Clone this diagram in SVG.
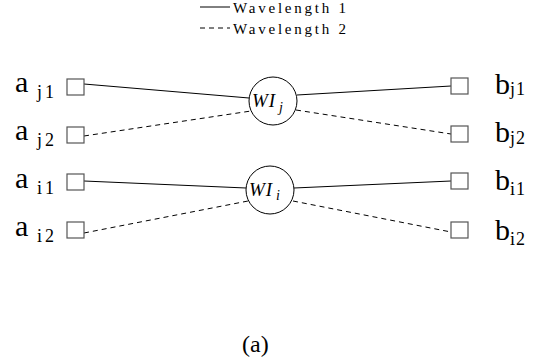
<svg xmlns="http://www.w3.org/2000/svg" width="547" height="362" viewBox="0 0 547 362">
<style>
.box{fill:#fff;stroke:#555;stroke-width:1.2}
.circ{fill:#fff;stroke:#000;stroke-width:1}
.ln{stroke:#000;stroke-width:1;fill:none}
.dash{stroke-dasharray:5,4}
.lbl{font-family:"Liberation Serif",serif;font-size:30px;fill:#000}
.sub{font-family:"Liberation Serif",serif;font-size:18px;fill:#000}
.leg{font-family:"Liberation Serif",serif;font-size:15px;fill:#000}
.wi{font-family:"Liberation Serif",serif;font-style:italic;font-size:19px;fill:#000;letter-spacing:1px}
.wis{font-family:"Liberation Serif",serif;font-style:italic;font-size:14px;fill:#000}
</style>
<rect width="547" height="362" fill="#fff"/>
<g id="legend">
<line class="ln" x1="200" y1="7" x2="230" y2="7"/>
<text class="leg" x="233" y="13" textLength="113" lengthAdjust="spacing">Wavelength 1</text>
<line class="ln dash" x1="200" y1="28" x2="230" y2="28"/>
<text class="leg" x="233" y="34" textLength="113" lengthAdjust="spacing">Wavelength 2</text>
</g>
<g id="connectors">
<line class="ln" x1="84" y1="84" x2="249" y2="98"/>
<line class="ln dash" x1="84" y1="136" x2="251" y2="111"/>
<line class="ln" x1="297" y1="95" x2="451" y2="86"/>
<line class="ln dash" x1="296" y1="110" x2="451" y2="134"/>
<line class="ln" x1="84" y1="181" x2="246" y2="188"/>
<line class="ln dash" x1="84" y1="233" x2="248" y2="201"/>
<line class="ln" x1="294" y1="188" x2="451" y2="181"/>
<line class="ln dash" x1="293" y1="201" x2="451" y2="232"/>
</g>
<g id="a_j1"><rect class="box" x="67" y="79" width="17" height="16"/><text class="lbl" x="15" y="92">a</text><text class="sub" x="37" y="98" textLength="17" lengthAdjust="spacing">j1</text></g>
<g id="a_j2"><rect class="box" x="67" y="127" width="17" height="16"/><text class="lbl" x="15" y="140">a</text><text class="sub" x="37" y="146" textLength="17" lengthAdjust="spacing">j2</text></g>
<g id="a_i1"><rect class="box" x="67" y="174" width="17" height="16"/><text class="lbl" x="15" y="188">a</text><text class="sub" x="37" y="194" textLength="17" lengthAdjust="spacing">i1</text></g>
<g id="a_i2"><rect class="box" x="67" y="222" width="17" height="16"/><text class="lbl" x="15" y="236">a</text><text class="sub" x="37" y="242" textLength="17" lengthAdjust="spacing">i2</text></g>
<g id="b_j1"><rect class="box" x="451" y="78" width="17" height="16"/><text class="lbl" x="495" y="94">b</text><text class="sub" x="510" y="95" textLength="15" lengthAdjust="spacing">j1</text></g>
<g id="b_j2"><rect class="box" x="451" y="126" width="17" height="16"/><text class="lbl" x="495" y="142">b</text><text class="sub" x="510" y="144" textLength="15" lengthAdjust="spacing">j2</text></g>
<g id="b_i1"><rect class="box" x="451" y="173" width="17" height="16"/><text class="lbl" x="495" y="190">b</text><text class="sub" x="510" y="195" textLength="15" lengthAdjust="spacing">i1</text></g>
<g id="b_i2"><rect class="box" x="451" y="222" width="17" height="16"/><text class="lbl" x="495" y="240">b</text><text class="sub" x="510" y="245" textLength="15" lengthAdjust="spacing">i2</text></g>
<g id="wi_j"><circle class="circ" cx="273" cy="101" r="24"/><text class="wi" x="252" y="107">WI</text><text class="wis" x="279" y="112">j</text></g>
<g id="wi_i"><circle class="circ" cx="270" cy="190" r="24"/><text class="wi" x="249" y="196">WI</text><text class="wis" x="276" y="200">i</text></g>
<text class="lbl" x="242" y="352" style="font-size:24px">(a)</text>
</svg>
